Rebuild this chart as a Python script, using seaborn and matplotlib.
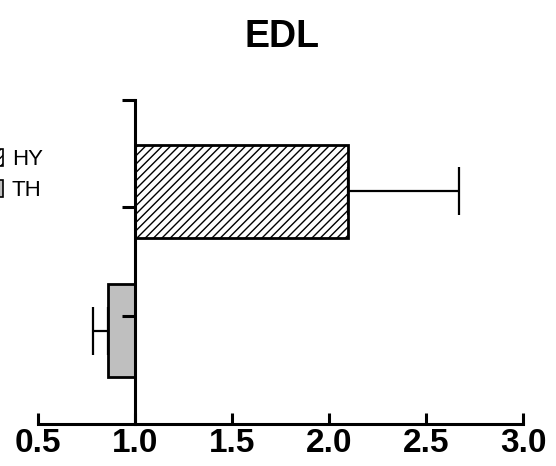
import pandas as pd
import matplotlib
matplotlib.use("Agg")
import matplotlib.pyplot as plt
import matplotlib.patches as mpatches
import seaborn as sns

# data
groups = ["HY", "TH"]
values = [2.10, 0.86]
err_low = [0.0, 0.077]
err_high = [0.57, 0.0]
baseline = 1.0
xticks = [0.5, 1.0, 1.5, 2.0, 2.5, 3.0]

df = pd.DataFrame({"group": groups, "value": values})

sns.set_style("white")
plt.rcParams["font.family"] = ["Liberation Sans", "DejaVu Sans"]
plt.rcParams["hatch.linewidth"] = 1.0
plt.rcParams["text.color"] = "black"
plt.rcParams["xtick.color"] = "black"
plt.rcParams["ytick.color"] = "black"

fig = plt.figure(figsize=(5.56, 4.66), dpi=100)
ax = fig.add_axes([38 / 556, 1 - 424 / 466, 485 / 556, 324 / 466])

sns.barplot(data=df, x="value", y="group", orient="h", color="white",
            width=0.667, edgecolor="black", linewidth=2, errorbar=None, ax=ax)

# bars start from the 1.0 baseline
fills = {"HY": "white", "TH": "#bfbfbf"}
hatches = {"HY": "////", "TH": ""}
for p, g in zip(ax.patches, groups):
    w = p.get_width()
    p.set_x(baseline)
    p.set_width(w - baseline)
    p.set_facecolor(fills[g])
    p.set_hatch(hatches[g])
    p.set_edgecolor("black")
    p.set_linewidth(2.0)
    p.set_zorder(1)

ax.errorbar(values, range(len(groups)), xerr=[err_low, err_high], fmt="none",
            ecolor="black", elinewidth=1.6, capsize=17.3, capthick=1.6, zorder=1)

ax.set_xlim(0.5, 3.0)
ax.set_ylim(1.667, -0.656)
ax.set_xticks(xticks)
ax.set_xticklabels([f"{t:.1f}" for t in xticks], fontsize=24, fontweight="bold")
ax.set_yticks([-0.656, 0.111, 0.892])
ax.set_yticklabels([])
ax.set_xlabel("")
ax.set_ylabel("")
ax.set_axisbelow(False)

for s in ["top", "right"]:
    ax.spines[s].set_visible(False)
ax.spines["left"].set_position(("data", baseline))
for s in ["left", "bottom"]:
    ax.spines[s].set_linewidth(2.2)
    ax.spines[s].set_color("black")
    ax.spines[s].set_zorder(3)

ax.tick_params(axis="x", direction="in", length=8, width=2.2, pad=3, bottom=True)
ax.tick_params(axis="y", direction="out", length=9.4, width=2.2, left=True)

# legend partly cut off at the left edge
handles = [mpatches.Patch(facecolor=fills[g], edgecolor="black", hatch=hatches[g], linewidth=1.2)
           for g in groups]
fig.legend(handles, groups, loc="center left", bbox_to_anchor=(-15 / 556, 1 - 175 / 466),
           frameon=False, fontsize=16, handlelength=0.8, handleheight=0.8,
           handletextpad=0.4, borderpad=0, borderaxespad=0, labelspacing=0.45)

fig.text(282 / 556, 1 - 47 / 466, "EDL", ha="center", va="baseline",
         fontsize=27, fontweight="bold")

fig.savefig("out.png", dpi=100)
